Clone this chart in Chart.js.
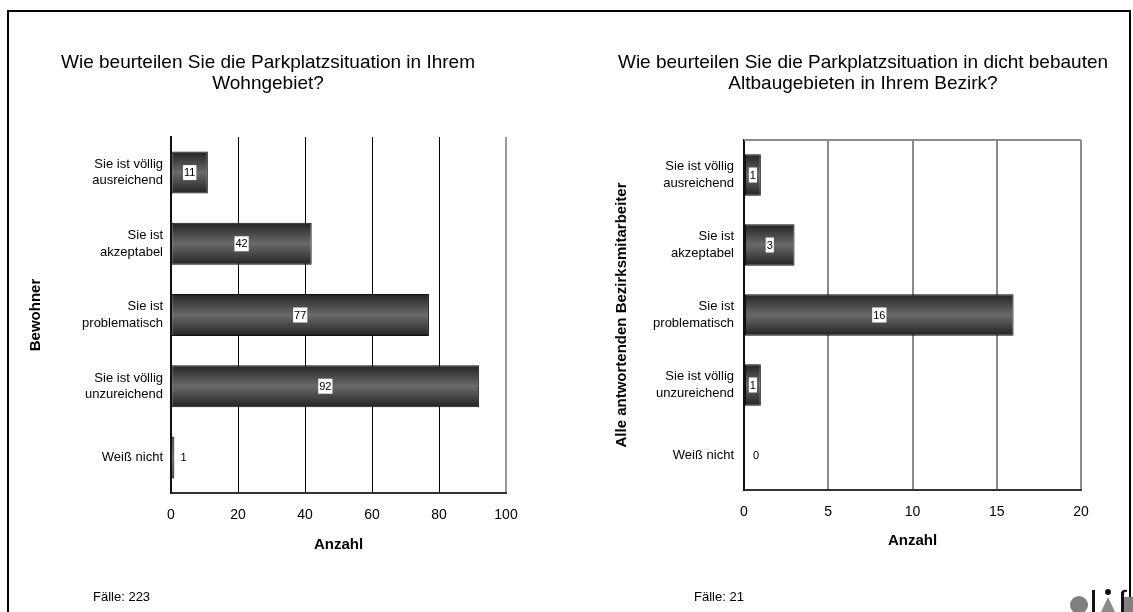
<!DOCTYPE html>
<html>
<head>
<meta charset="utf-8">
<script src="https://cdn.jsdelivr.net/npm/chart.js@4.4.1/dist/chart.umd.min.js"></script>
<style>
  html, body { margin: 0; padding: 0; background: #fff; }
  body { width: 1133px; height: 612px; position: relative; overflow: hidden;
         font-family: "Liberation Sans", Arial, sans-serif; }
  #frame { position: absolute; left: 7px; top: 10px; width: 1120px; height: 640px;
           border: 2px solid #000; border-bottom: none; }
  .panel { position: absolute; top: 0; }
  #c1 { left: 0; }
  #c2 { left: 566px; }
  .note { position: absolute; top: 589px; font-size: 13px; color: #000; }
</style>
</head>
<body>
<div id="frame"></div>
<canvas id="c1" class="panel" width="566" height="612"></canvas>
<canvas id="c2" class="panel" width="567" height="612"></canvas>
<div class="note" style="left:93px">Fälle: 223</div>
<div class="note" style="left:694px">Fälle: 21</div>
<script>
// Answer categories (top to bottom)
const categories = [
  ['Sie ist völlig', 'ausreichend'],
  ['Sie ist', 'akzeptabel'],
  ['Sie ist', 'problematisch'],
  ['Sie ist völlig', 'unzureichend'],
  'Weiß nicht'
];
// Counts per answer
const residentCounts = [11, 42, 77, 92, 1];
const staffCounts = [1, 3, 16, 1, 0];
// Axis tick values
const residentTicks = [0, 20, 40, 60, 80, 100];
const staffTicks = [0, 5, 10, 15, 20];

const FONT = '"Liberation Sans", Arial, sans-serif';
const BAR_PCT = 0.59;

Chart.defaults.font.family = FONT;
Chart.defaults.color = '#000';

// Vertical shading on each bar: dark edges, lighter middle
function barFill(ctx) {
  const chart = ctx.chart;
  const y = chart.scales && chart.scales.y;
  if (!y || ctx.type !== 'data' || !chart.chartArea) return '#555';
  const c = y.getPixelForValue(ctx.dataIndex);
  const half = (y.height / categories.length) * BAR_PCT / 2;
  const g = chart.ctx.createLinearGradient(0, c - half, 0, c + half);
  g.addColorStop(0, '#232323');
  g.addColorStop(0.5, '#6a6a6a');
  g.addColorStop(1, '#232323');
  return g;
}

// Count printed on each bar (white box), or beside it when the bar is too short
const valueLabels = {
  id: 'valueLabels',
  afterDatasetsDraw(chart) {
    const ctx = chart.ctx;
    const meta = chart.getDatasetMeta(0);
    const vals = chart.data.datasets[0].data;
    ctx.save();
    ctx.font = '11px ' + FONT;
    ctx.textAlign = 'center';
    ctx.textBaseline = 'middle';
    meta.data.forEach((bar, i) => {
      const txt = String(vals[i]);
      const len = Math.abs(bar.x - bar.base);
      if (len >= 10) {
        const cx = (bar.x + bar.base) / 2;
        const w = ctx.measureText(txt).width + 2;
        ctx.fillStyle = '#fff';
        ctx.fillRect(cx - w / 2, bar.y - 7.5, w, 15);
        ctx.fillStyle = '#000';
        ctx.fillText(txt, cx, bar.y + 0.5);
      } else {
        ctx.fillStyle = '#000';
        ctx.fillText(txt, bar.base + 12, bar.y + 0.5);
      }
    });
    ctx.restore();
  }
};

// Top edge of the plot frame
const topEdge = {
  id: 'topEdge',
  beforeDatasetsDraw(chart, args, opts) {
    if (!opts.color) return;
    const {ctx, chartArea} = chart;
    ctx.save();
    ctx.strokeStyle = opts.color;
    ctx.lineWidth = 2;
    ctx.beginPath();
    ctx.moveTo(chartArea.left, chartArea.top);
    ctx.lineTo(chartArea.right, chartArea.top);
    ctx.stroke();
    ctx.restore();
  }
};

// difu logo in the lower right corner
const logo = {
  id: 'logo',
  afterDraw(chart, args, opts) {
    if (!opts.show) return;
    const ctx = chart.ctx;
    const ox = 566;
    ctx.save();
    ctx.fillStyle = '#808080';
    ctx.beginPath();
    ctx.arc(1079 - ox, 605, 9, 0, Math.PI * 2);
    ctx.fill();
    ctx.fillStyle = '#111';
    ctx.fillRect(1092 - ox, 590, 3, 22);
    ctx.fillStyle = '#8a8a8a';
    ctx.beginPath();
    ctx.moveTo(1108 - ox, 597);
    ctx.lineTo(1115 - ox, 612);
    ctx.lineTo(1101 - ox, 612);
    ctx.closePath();
    ctx.fill();
    ctx.fillStyle = '#111';
    ctx.beginPath();
    ctx.arc(1108 - ox, 592, 3, 0, Math.PI * 2);
    ctx.fill();
    ctx.fillStyle = '#808080';
    ctx.fillRect(1124 - ox, 597, 9, 15);
    ctx.fillStyle = '#111';
    ctx.fillRect(1121 - ox, 592, 3, 20);
    ctx.beginPath();
    ctx.moveTo(1121 - ox, 593);
    ctx.quadraticCurveTo(1122 - ox, 589, 1127 - ox, 590);
    ctx.lineTo(1127 - ox, 592);
    ctx.quadraticCurveTo(1124 - ox, 591, 1124 - ox, 594);
    ctx.closePath();
    ctx.fill();
    ctx.restore();
  }
};

function makeChart(id, cfg) {
  const last = cfg.ticks[cfg.ticks.length - 1];
  return new Chart(document.getElementById(id), {
    type: 'bar',
    data: {
      labels: categories,
      datasets: [{
        data: cfg.values,
        backgroundColor: barFill,
        borderColor: '#111',
        borderWidth: 1,
        borderSkipped: false,
        categoryPercentage: 1,
        barPercentage: BAR_PCT
      }]
    },
    options: {
      indexAxis: 'y',
      responsive: false,
      animation: false,
      devicePixelRatio: 1,
      layout: { padding: cfg.padding },
      plugins: {
        legend: { display: false },
        tooltip: { enabled: false },
        title: {
          display: true,
          text: cfg.title,
          font: { size: 19, weight: 'normal', lineHeight: 21 / 19 },
          color: '#000',
          padding: cfg.titlePadding
        },
        topEdge: { color: cfg.topEdge },
        logo: { show: cfg.logo }
      },
      scales: {
        x: {
          type: 'linear',
          min: cfg.ticks[0],
          max: last,
          afterBuildTicks: s => { s.ticks = cfg.ticks.map(v => ({ value: v })); },
          afterFit: s => { s.height = cfg.xHeight; },
          ticks: { font: { size: 14 }, padding: cfg.xTickPad, color: '#000' },
          grid: {
            drawTicks: false,
            color: c => c.tick && c.tick.value === last ? cfg.edgeColor : cfg.gridColor,
            lineWidth: c => c.tick && c.tick.value === last ? 2 : cfg.gridWidth
          },
          border: { display: true, color: '#333', width: 2 },
          title: {
            display: true, text: 'Anzahl', color: '#000',
            font: { size: 15, weight: 'bold', lineHeight: 1.2 },
            padding: { top: 0, bottom: cfg.xTitlePad }
          }
        },
        y: {
          afterFit: s => { s.width = cfg.yWidth; },
          ticks: { font: { size: 13, lineHeight: 1.25 }, padding: cfg.yTickPad, color: '#000' },
          grid: { display: false, drawTicks: false },
          border: { display: true, color: '#111', width: 2 },
          title: {
            display: true, text: cfg.yTitle, color: '#000',
            font: { size: 15, weight: 'bold', lineHeight: 1 },
            padding: { top: -1.5, bottom: 0 }
          }
        },
        // empty margin to the right of the plot
        gap: {
          type: 'category',
          position: 'right',
          afterFit: s => { s.width = cfg.rightGap; },
          ticks: { display: false },
          grid: { display: false, drawTicks: false },
          border: { display: false }
        }
      }
    },
    plugins: [valueLabels, topEdge, logo]
  });
}

makeChart('c1', {
  values: residentCounts,
  ticks: residentTicks,
  title: ['Wie beurteilen Sie die Parkplatzsituation in Ihrem', 'Wohngebiet?'],
  yTitle: 'Bewohner',
  padding: { left: 30, right: 60, top: 40, bottom: 52 },
  titlePadding: { top: 12, bottom: 43 },
  yWidth: 141, yTickPad: 8, rightGap: 0,
  xHeight: 67, xTickPad: 14, xTitlePad: 5.7,
  gridColor: '#000', gridWidth: 1, edgeColor: '#9a9a9a',
  topEdge: null, logo: false
});

makeChart('c2', {
  values: staffCounts,
  ticks: staffTicks,
  title: ['Wie beurteilen Sie die Parkplatzsituation in dicht bebauten', 'Altbaugebieten in Ihrem Bezirk?'],
  yTitle: 'Alle antwortenden Bezirksmitarbeiter',
  padding: { left: 50, right: 23, top: 40, bottom: 52 },
  titlePadding: { top: 12, bottom: 46 },
  yWidth: 128, yTickPad: 10, rightGap: 29,
  xHeight: 70, xTickPad: 13.3, xTitlePad: 10,
  gridColor: '#8a8a8a', gridWidth: 2, edgeColor: '#8a8a8a',
  topEdge: '#8a8a8a', logo: true
});
</script>
</body>
</html>
